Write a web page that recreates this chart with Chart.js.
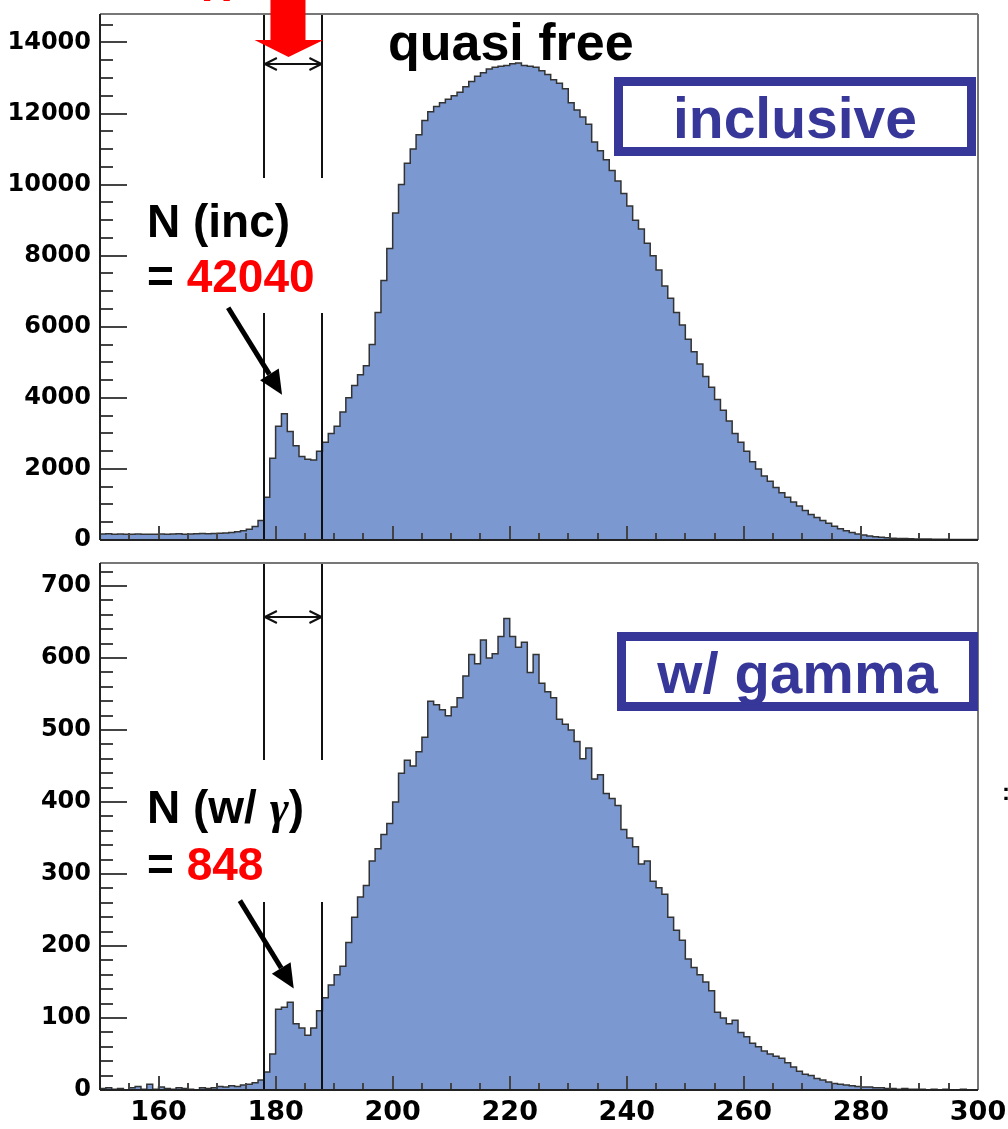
<!DOCTYPE html>
<html>
<head>
<meta charset="utf-8">
<script src="https://cdn.jsdelivr.net/npm/chart.js@4.4.0/dist/chart.umd.min.js"></script>
<style>
  html, body { margin: 0; padding: 0; background: #fff; }
  #wrap { position: relative; width: 1008px; height: 1129px; overflow: hidden;
          font-family: "Liberation Sans", Arial, sans-serif; font-weight: bold; }
  canvas { position: absolute; left: 0; }
  .lbl { position: absolute; white-space: nowrap; line-height: 1; }
  .tagbox { position: absolute; box-sizing: border-box; border: 9px solid #373799; }
  .tag { position: absolute; text-align: center; color: #373799; line-height: 1; white-space: nowrap; }
  .red { color: #ff0000; }
  .gam { font-family: "Liberation Serif", serif; font-style: italic; }
</style>
</head>
<body>
<div id="wrap">
  <canvas id="topChart" width="1008" height="560" style="top:0"></canvas>
  <canvas id="bottomChart" width="1008" height="589" style="top:540px"></canvas>

  <div class="lbl red" style="left:201px;top:-36px;font-size:44px">H</div>
  <div class="lbl" style="left:388px;top:16px;font-size:52px">quasi free</div>

  <div class="tagbox" style="left:614px;top:77px;width:362px;height:79px"></div>
  <div class="tag" style="left:614px;top:90px;width:362px;font-size:57px">inclusive</div>

  <div class="tagbox" style="left:617px;top:632px;width:361px;height:79px"></div>
  <div class="tag" style="left:617px;top:644px;width:361px;font-size:58px">w/ gamma</div>

  <div class="lbl" style="left:147px;top:198px;font-size:46px">N (inc)</div>
  <div class="lbl" style="left:147px;top:253px;font-size:46px">= <span class="red">42040</span></div>
  <div class="lbl" style="left:147px;top:784px;font-size:46px">N (w/ <span class="gam">γ</span>)</div>
  <div class="lbl" style="left:147px;top:841px;font-size:46px">= <span class="red">848</span></div>

  <div class="lbl" style="left:1002px;top:780px;font-size:24px">:</div>
</div>

<script>
// histogram bins: 1 unit wide, starting at 150
const BIN_START = 150;
const BIN_END = 300;

// inclusive spectrum, bins 150..299
const incCounts = [
  180, 170, 175, 165, 170, 160, 165, 170, 160, 165,
  165, 170, 160, 170, 175, 165, 170, 175, 180, 175,
  180, 190, 200, 210, 230, 260, 300, 380, 550, 1200,
  2300, 3200, 3550, 3050, 2650, 2350, 2270, 2250, 2500, 2750,
  3000, 3200, 3600, 4000, 4350, 4650, 4900, 5500, 6400, 7300,
  8200, 9200, 10000, 10600, 11000, 11400, 11800, 12050, 12200, 12300,
  12400, 12500, 12600, 12750, 12900, 13050, 13150, 13250, 13300, 13330,
  13350, 13400, 13420, 13350, 13330, 13300, 13200, 13100, 12950, 12850,
  12700, 12300, 12100, 11900, 11700, 11200, 10950, 10700, 10400, 10100,
  9750, 9400, 9000, 8750, 8350, 8000, 7600, 7150, 6800, 6400,
  6050, 5650, 5300, 4950, 4600, 4300, 3950, 3650, 3350, 3000,
  2750, 2500, 2200, 2000, 1800, 1650, 1480, 1330, 1200, 1070,
  960, 830, 720, 630, 550, 470, 390, 320, 260, 210,
  170, 140, 110, 90, 75, 60, 50, 45, 40, 35,
  30, 28, 25, 22, 20, 18, 16, 15, 14, 12
];

// spectrum with gamma, bins 150..299
const gammaCounts = [
  4, 2, 3, 1, 2, 0, 3, 5, 1, 8,
  1, 4, 2, 1, 3, 2, 1, 0, 3, 2,
  3, 5, 4, 6, 5, 7, 8, 10, 14, 25,
  50, 112, 115, 122, 92, 86, 76, 86, 110, 128,
  146, 160, 172, 205, 240, 268, 284, 318, 335, 355,
  370, 400, 440, 458, 450, 470, 490, 540, 535, 528,
  520, 532, 545, 575, 605, 592, 625, 600, 606, 630,
  655, 630, 615, 622, 580, 605, 565, 553, 545, 515,
  508, 500, 484, 460, 475, 432, 438, 412, 405, 395,
  362, 350, 338, 314, 318, 290, 281, 272, 240, 222,
  208, 182, 170, 160, 150, 138, 108, 100, 92, 97,
  80, 74, 65, 60, 54, 50, 47, 44, 38, 32,
  26, 22, 20, 16, 14, 11, 9, 8, 7, 6,
  5, 4, 4, 3, 3, 2, 2, 1, 2, 1,
  1, 1, 0, 1, 0, 1, 0, 0, 1, 0
];

const xTicks = [160, 180, 200, 220, 240, 260, 280, 300];
const topYTicks = [0, 2000, 4000, 6000, 8000, 10000, 12000, 14000];
const bottomYTicks = [0, 100, 200, 300, 400, 500, 600, 700];
const cutEdges = [178, 188];

function toPoints(counts) {
  const pts = counts.map((c, i) => ({ x: BIN_START + i, y: c }));
  pts.push({ x: BIN_END, y: counts[counts.length - 1] });
  return pts;
}

function seg(ctx, x1, y1, x2, y2) {
  ctx.beginPath();
  ctx.moveTo(x1, y1);
  ctx.lineTo(x2, y2);
  ctx.stroke();
}

function pointer(ctx, x1, y1, x2, y2) {
  const ang = Math.atan2(y2 - y1, x2 - x1);
  const hl = 24, hw = 11;
  const bx = x2 - hl * Math.cos(ang), by = y2 - hl * Math.sin(ang);
  ctx.strokeStyle = '#000';
  ctx.lineWidth = 5;
  seg(ctx, x1, y1, bx, by);
  ctx.fillStyle = '#000';
  ctx.beginPath();
  ctx.moveTo(x2, y2);
  ctx.lineTo(bx + hw * Math.sin(ang), by - hw * Math.cos(ang));
  ctx.lineTo(bx - hw * Math.sin(ang), by + hw * Math.cos(ang));
  ctx.closePath();
  ctx.fill();
}

const rootStyle = {
  id: 'rootStyle',
  afterDatasetsDraw(chart, args, o) {
    const { ctx, chartArea: a, scales: { x, y } } = chart;
    ctx.save();

    // cut window lines
    ctx.strokeStyle = '#111';
    ctx.lineWidth = 2;
    cutEdges.forEach(v => {
      const px = Math.round(x.getPixelForValue(v));
      seg(ctx, px, a.top, px, a.bottom);
    });

    // white patch behind the count labels
    ctx.fillStyle = '#fff';
    o.gaps.forEach(g => ctx.fillRect(g[0], g[1], g[2], g[3]));

    // y ticks
    ctx.strokeStyle = '#444';
    ctx.lineWidth = 2;
    for (let v = 0; v <= y.max; v += o.yMinor) {
      const py = Math.round(y.getPixelForValue(v));
      const len = o.yMajor.includes(v) ? 27 : 13;
      seg(ctx, a.left, py, a.left + len, py);
    }
    // x ticks
    for (let v = BIN_START; v <= BIN_END; v += 5) {
      const px = Math.round(x.getPixelForValue(v));
      const len = v % 20 === 0 ? 14 : 7;
      seg(ctx, px, a.bottom, px, a.bottom - len);
    }

    // frame
    ctx.strokeStyle = '#777';
    ctx.lineWidth = 2;
    seg(ctx, a.left, a.top, a.right, a.top);
    seg(ctx, a.right, a.top, a.right, a.bottom);
    ctx.strokeStyle = '#222';
    seg(ctx, a.left, a.top, a.left, a.bottom);
    seg(ctx, a.left, a.bottom, a.right, a.bottom);

    // double arrow across the window
    const xa = x.getPixelForValue(cutEdges[0]) + 1;
    const xb = x.getPixelForValue(cutEdges[1]) - 1;
    const ya = Math.round(y.getPixelForValue(o.spanY));
    ctx.strokeStyle = '#111';
    ctx.lineWidth = 2;
    seg(ctx, xa, ya, xb, ya);
    seg(ctx, xa, ya, xa + 12, ya - 6);
    seg(ctx, xa, ya, xa + 12, ya + 6);
    seg(ctx, xb, ya, xb - 12, ya - 6);
    seg(ctx, xb, ya, xb - 12, ya + 6);

    // arrow to the peak
    const p = o.pointer;
    pointer(ctx, x.getPixelForValue(p[0]), y.getPixelForValue(p[1]),
                 x.getPixelForValue(p[2]), y.getPixelForValue(p[3]));

    // big red arrow above the window
    if (o.redArrow) {
      const cx = x.getPixelForValue(o.redArrow);
      ctx.fillStyle = '#ff0000';
      ctx.fillRect(cx - 18, 0, 35, 41);
      ctx.beginPath();
      ctx.moveTo(cx - 34, 40);
      ctx.lineTo(cx + 35, 40);
      ctx.lineTo(cx, 57);
      ctx.closePath();
      ctx.fill();
    }
    ctx.restore();
  }
};

function makeChart(id, counts, yMax, yTicks, showX, pad, extra) {
  const tickFont = { family: 'DejaVu Sans', weight: 'bold' };
  return new Chart(document.getElementById(id), {
    type: 'line',
    data: {
      datasets: [{
        data: toPoints(counts),
        stepped: 'after',
        fill: 'origin',
        backgroundColor: '#7b98d0',
        borderColor: '#333',
        borderWidth: 1.5,
        pointRadius: 0
      }]
    },
    options: {
      responsive: false,
      animation: false,
      layout: { padding: pad },
      plugins: { legend: { display: false }, tooltip: { enabled: false }, rootStyle: extra },
      scales: {
        x: {
          type: 'linear',
          min: BIN_START,
          max: BIN_END,
          display: showX,
          grid: { display: false, drawTicks: false },
          border: { display: false },
          afterBuildTicks: s => { s.ticks = xTicks.map(v => ({ value: v })); },
          afterFit: s => { s.height = showX ? 39 : 0; s.paddingLeft = 0; s.paddingRight = 0; },
          ticks: { color: '#000', padding: 7, maxRotation: 0, autoSkip: false,
                   callback: v => String(v), font: { ...tickFont, size: 27 } }
        },
        y: {
          min: 0,
          max: yMax,
          grid: { display: false, drawTicks: false },
          border: { display: false },
          afterBuildTicks: s => { s.ticks = yTicks.map(v => ({ value: v })); },
          afterFit: s => { s.width = 100; s.paddingTop = 0; s.paddingBottom = 0; },
          ticks: { color: '#000', padding: 9, callback: v => String(v),
                   font: { ...tickFont, size: 24 } }
        }
      }
    },
    plugins: [rootStyle]
  });
}

makeChart('topChart', incCounts, 14800, topYTicks, false,
  { left: 0, top: 14, right: 30, bottom: 20 },
  { gaps: [[137, 178, 190, 135]], yMinor: 500, yMajor: topYTicks, spanY: 13380,
    pointer: [171.9, 6535, 181.1, 4085], redArrow: 182.2 });

makeChart('bottomChart', gammaCounts, 732, bottomYTicks, true,
  { left: 0, top: 23, right: 30, bottom: 0 },
  { gaps: [[137, 220, 190, 142]], yMinor: 20, yMajor: bottomYTicks, spanY: 657,
    pointer: [173.9, 263, 183.1, 141] });
</script>
</body>
</html>
